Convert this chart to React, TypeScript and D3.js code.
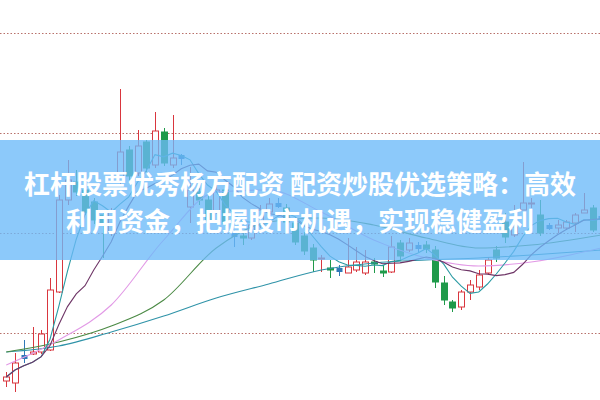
import React from 'react';
import * as d3 from 'd3';

const width = 600;
const height = 400;

// daily candles, left to right
const opens = [
  3.52, 3.5, 3.76, 3.79, 3.81, 3.83, 4.41, 5.33, 5.51, 5.43, 5.31, 5.18, 5.0, 5.51, 5.83, 5.6, 5.91, 5.68, 6.01, 5.68,
  5.76, 5.26, 5.41, 5.33, 5.21, 5.43, 4.98, 4.97, 4.95, 5.08, 5.21, 5.28, 5.25, 5.1, 4.97, 4.85, 4.74, 4.65, 4.63, 4.6,
  4.63, 4.6, 4.71, 4.62, 4.61, 4.9, 4.83, 4.86, 4.88, 4.83, 4.5, 4.31, 4.26, 4.41, 4.46, 4.6, 4.83, 5.11, 4.98, 5.23,
  5.29, 5.18, 5.06, 5.05, 5.05, 5.1, 5.2, 5.25, 5.15,
];
const highs = [
  3.61, 3.8, 3.93, 4.06, 4.03, 4.55, 5.38, 5.73, 5.63, 5.47, 5.35, 5.2, 5.25, 6.44, 5.87, 6.03, 5.93, 6.21, 6.05, 6.18,
  5.79, 5.66, 5.45, 5.37, 5.53, 5.47, 5.03, 5.0, 5.13, 5.28, 5.35, 5.35, 5.29, 5.16, 5.01, 4.89, 4.78, 4.73, 4.68, 4.95,
  4.86, 4.83, 4.75, 4.68, 4.97, 4.93, 4.95, 4.91, 4.92, 4.87, 4.57, 4.33, 4.43, 4.53, 4.63, 4.76, 4.87, 5.2, 5.28, 5.71,
  5.35, 5.33, 5.1, 5.13, 5.13, 5.2, 5.4, 5.28, 5.19,
];
const lows = [
  3.46, 3.41, 3.7, 3.78, 3.79, 3.82, 4.4, 5.28, 5.37, 5.18, 5.09, 4.75, 4.97, 5.47, 5.53, 5.57, 5.61, 5.65, 5.67, 5.65,
  5.68, 5.1, 5.28, 5.09, 5.19, 5.07, 4.86, 4.88, 4.93, 5.05, 5.18, 5.25, 5.08, 4.88, 4.78, 4.61, 4.61, 4.55, 4.57, 4.6,
  4.61, 4.58, 4.6, 4.56, 4.6, 4.73, 4.81, 4.81, 4.8, 4.45, 4.28, 4.21, 4.23, 4.33, 4.43, 4.58, 4.71, 4.9, 4.96, 5.23,
  5.25, 4.97, 5.03, 5.0, 5.03, 5.01, 5.2, 5.01, 5.11,
];
const closes = [
  3.56, 3.7, 3.76, 3.81, 3.99, 4.43, 5.33, 5.53, 5.41, 5.21, 5.13, 5.08, 5.21, 5.81, 5.57, 5.87, 5.65, 6.02, 5.7, 5.75,
  5.76, 5.43, 5.33, 5.13, 5.43, 5.1, 4.98, 4.95, 5.08, 5.23, 5.29, 5.28, 5.11, 4.91, 4.82, 4.73, 4.75, 4.63, 4.63, 4.66,
  4.71, 4.71, 4.69, 4.6, 4.86, 4.77, 4.9, 4.86, 4.84, 4.51, 4.33, 4.25, 4.41, 4.48, 4.58, 4.73, 4.75, 4.96, 5.06, 5.3,
  5.3, 5.0, 5.06, 5.08, 5.11, 5.18, 5.23, 5.03, 5.15,
];

// longer averages at these candles
const longIdx = [0, 6, 12, 18, 24, 30, 36, 42, 48, 54, 60, 68];
const ma20 = [3.68, 3.93, 4.28, 4.93, 5.41, 5.43, 5.21, 4.93, 4.75, 4.67, 4.71, 4.85];
const ma30 = [3.81, 3.91, 4.07, 4.33, 4.85, 5.11, 5.15, 5.08, 4.95, 4.85, 4.88, 4.98];
const ma60 = [3.81, 3.87, 4.01, 4.17, 4.35, 4.49, 4.63, 4.7, 4.73, 4.75, 4.78, 4.83];

const gridPrices = [4, 5, 6, 7];

const titleLines = ['杠杆股票优秀杨方配资 配资炒股优选策略：高效', '利用资金，把握股市机遇，实现稳健盈利'];

const upColor = '#d9363e';
const downColor = '#1f9a4a';
const flatColor = '#2f78b8';

const movingAvg = (period: number) =>
  closes.map((_, i) => d3.mean(closes.slice(Math.max(0, i - period + 1), i + 1)) as number);

const App = () => {
  const x = d3.scaleLinear().domain([0, 67]).range([6.25, 592.5]);
  const y = d3.scaleLinear().domain([3.33, 7.33]).range([height, 0]);
  const bw = 6;

  const computed = [
    { values: movingAvg(5), color: '#2a9aa3' },
    { values: movingAvg(10), color: '#6e3566' },
  ];
  const sampled = [
    { values: ma60, color: '#2f93a8' },
    { values: ma30, color: '#4b8a45' },
    { values: ma20, color: '#e29ae6' },
  ];
  const lineFull = d3
    .line<number>()
    .x((_, i) => x(i))
    .y(d => y(d));
  const lineSampled = d3
    .line<number>()
    .x((_, i) => x(longIdx[i]))
    .y(d => y(d))
    .curve(d3.curveMonotoneX);

  return (
    <svg width={width} height={height} style={{ position: 'absolute', left: 0, top: 0, background: '#fff' }}>
      {gridPrices.map(p => (
        <line
          key={p}
          x1={0}
          x2={width}
          y1={Math.round(y(p)) + 0.5}
          y2={Math.round(y(p)) + 0.5}
          stroke="#b8706a"
          strokeDasharray="1.5,2"
        />
      ))}

      {opens.map((o, i) => {
        const c = closes[i];
        const cx = Math.round(x(i)) + 0.5;
        const hi = y(highs[i]);
        const lo = y(lows[i]);
        if (o === c) {
          return (
            <g key={i}>
              <line x1={cx} x2={cx} y1={hi} y2={lo} stroke={flatColor} />
              <rect x={cx - bw / 2} y={y(c) - 2} width={bw} height={4} fill={flatColor} />
            </g>
          );
        }
        const top = y(Math.max(o, c));
        const bot = y(Math.min(o, c));
        if (c > o) {
          return (
            <g key={i}>
              <line x1={cx} x2={cx} y1={hi} y2={top} stroke={upColor} />
              <line x1={cx} x2={cx} y1={bot} y2={lo} stroke={upColor} />
              <rect
                x={cx - bw / 2}
                y={top}
                width={bw}
                height={Math.max(1, bot - top)}
                fill="#fff"
                stroke={upColor}
              />
            </g>
          );
        }
        return (
          <g key={i}>
            <line x1={cx} x2={cx} y1={hi} y2={lo} stroke={downColor} />
            <rect
              x={cx - bw / 2}
              y={top}
              width={bw}
              height={Math.max(1, bot - top)}
              fill={downColor}
              stroke={downColor}
            />
          </g>
        );
      })}

      {sampled.map((m, k) => (
        <path key={'s' + k} d={lineSampled(m.values) || ''} fill="none" stroke={m.color} strokeWidth={1.1} />
      ))}
      {computed.map((m, k) => (
        <path key={'c' + k} d={lineFull(m.values) || ''} fill="none" stroke={m.color} strokeWidth={1.1} />
      ))}

      <rect x={0} y={140} width={width} height={120} fill="rgb(108,186,248)" opacity={0.78} />
      {titleLines.map((t, k) => (
        <text
          key={k}
          x={width / 2}
          y={182 + k * 37}
          textAnchor="middle"
          dominantBaseline="central"
          fill="#fff"
          fontFamily="'Noto Sans CJK SC', sans-serif"
          fontWeight={700}
          fontSize={26}
        >
          {t}
        </text>
      ))}
    </svg>
  );
};

export default App;
